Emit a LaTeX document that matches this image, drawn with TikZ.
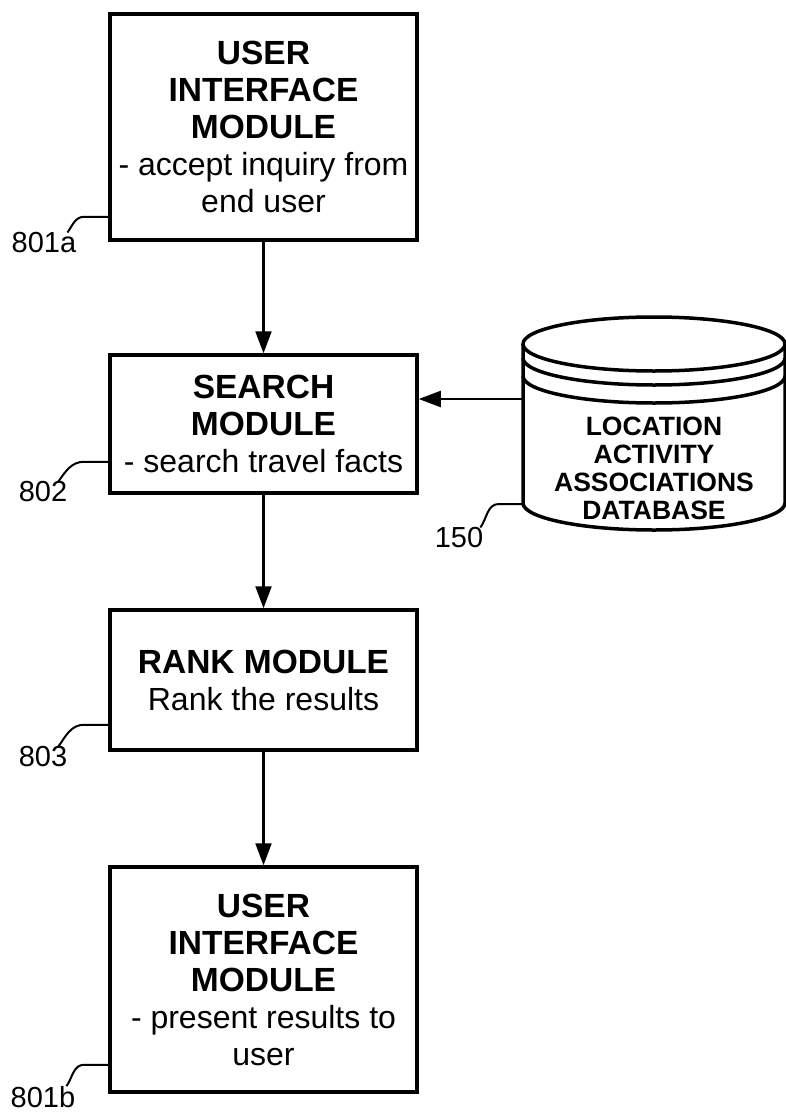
\documentclass[tikz,border=0pt]{standalone}
\usepackage{fontspec}
\setmainfont{Liberation Sans}
\usetikzlibrary{arrows.meta,positioning,calc}
\newcommand{\modhead}[1]{{\fontsize{33.5}{37}\selectfont\bfseries #1}}

\begin{document}
\begin{tikzpicture}[x=1pt, y=1pt, module/.style={rectangle,draw,line width=3.5pt,minimum width=307pt,align=center,inner sep=0pt,font=\fontsize{32}{37}\selectfont}, flow/.style={line width=2.2pt,-{Triangle[length=22pt,width=16pt]}}, ref label/.style={inner sep=0pt,font=\fontsize{29}{32}\selectfont}, hook/.style={line width=2pt}, db line/.style={line width=3.5pt}, db text/.style={align=center,inner sep=0pt,font=\fontsize{26.5}{28}\selectfont\bfseries}]
\useasboundingbox (0,0) rectangle (785,-1113);
\node[module,minimum height=226pt] (ui1) at (263.5,-127) {\modhead{USER}\\\modhead{INTERFACE}\\\modhead{MODULE}\\- accept inquiry from\\end user};
\node[module,minimum height=138pt] (search) at (263.5,-424) {\modhead{SEARCH}\\\modhead{MODULE}\\- search travel facts};
\node[module,minimum height=140pt] (rank) at (263.5,-680) {\modhead{RANK MODULE}\\Rank the results};
\node[module,minimum height=225pt] (ui2) at (263.5,-979.5) {\modhead{USER}\\\modhead{INTERFACE}\\\modhead{MODULE}\\- present results to\\user};
\draw[db line] (523,-344) -- (523,-503) arc (180:360:131 and 27) -- (785,-344);
\draw[db line] (654,-344) ellipse (131 and 27);
\draw[db line] (523,-358) arc (180:360:131 and 27);
\draw[db line] (523,-376) arc (180:360:131 and 27);
\node[db text] (db) at (654,-468) {LOCATION\\ACTIVITY\\ASSOCIATIONS\\DATABASE};
\coordinate (dbin) at (523,-399);
\coordinate (dbfoot) at (523,-504);
\draw[flow] (ui1) -- (search);
\draw[flow] (search) -- (rank);
\draw[flow] (rank) -- (ui2);
\draw[flow] (dbin) -- (search.east |- dbin);
\node[ref label] (l801a) at (44,-243) {801a};
\node[ref label] (l802) at (43,-492) {802};
\node[ref label] (l803) at (43,-757) {803};
\node[ref label] (l801b) at (43,-1097) {801b};
\node[ref label] (l150) at (459,-538) {150};
\draw[hook] ($(l801a.north east)+(-9,0)$) to[out=55,in=180] ($(ui1.south west)+(-24,25)$) -- ($(ui1.south west)+(0,25)$);
\draw[hook] ($(l802.north east)+(-9,0)$) to[out=55,in=180] ($(search.south west)+(-24,33)$) -- ($(search.south west)+(0,33)$);
\draw[hook] ($(l803.north east)+(-9,0)$) to[out=55,in=180] ($(rank.south west)+(-24,27)$) -- ($(rank.south west)+(0,27)$);
\draw[hook] ($(l801b.north east)+(-9,0)$) to[out=55,in=180] ($(ui2.south west)+(-24,29)$) -- ($(ui2.south west)+(0,29)$);
\draw[hook] ($(l150.north east)+(-3,0)$) to[out=55,in=180] ($(dbfoot)+(-24,0)$) -- (dbfoot);
\end{tikzpicture}
\end{document}
